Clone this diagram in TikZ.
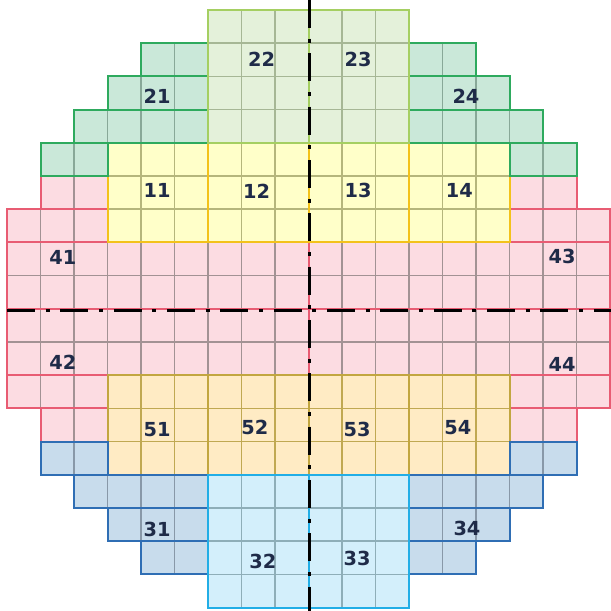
\documentclass[tikz,border=0pt]{standalone}
\usepackage{fontspec}
\newfontfamily\labelfont{DejaVu Sans}

\definecolor{labelnavy}{HTML}{1F2B48}
\definecolor{limefill}{HTML}{E4F1DA}
\definecolor{limeedge}{HTML}{A5CF62}
\definecolor{limegrid}{HTML}{A6B795}
\definecolor{mintfill}{HTML}{CAE8D9}
\definecolor{mintedge}{HTML}{2EAA5E}
\definecolor{mintgrid}{HTML}{88A898}
\definecolor{lemonfill}{HTML}{FFFFC9}
\definecolor{lemonedge}{HTML}{F3C21A}
\definecolor{lemongrid}{HTML}{B5B67C}
\definecolor{rosefill}{HTML}{FCDCE2}
\definecolor{roseedge}{HTML}{E85C73}
\definecolor{rosegrid}{HTML}{A29294}
\definecolor{peachfill}{HTML}{FFEBC4}
\definecolor{peachedge}{HTML}{C2A640}
\definecolor{peachgrid}{HTML}{C0A852}
\definecolor{steelfill}{HTML}{C8DCEC}
\definecolor{steeledge}{HTML}{2F6EB4}
\definecolor{steelgrid}{HTML}{8898A8}
\definecolor{skyfill}{HTML}{D3EFFB}
\definecolor{skyedge}{HTML}{22AEE6}
\definecolor{skygrid}{HTML}{8EAEB8}

\tikzset{every picture/.style={line width=0.75pt}}
\tikzset{
  lime fill/.style={fill=limefill},
  lime grid/.style={draw=limegrid, line width=1.1pt, step=1},
  lime edge/.style={draw=limeedge, line width=1.5pt},
  mint fill/.style={fill=mintfill},
  mint grid/.style={draw=mintgrid, line width=1.1pt, step=1},
  mint edge/.style={draw=mintedge, line width=1.5pt},
  lemon fill/.style={fill=lemonfill},
  lemon grid/.style={draw=lemongrid, line width=1.1pt, step=1},
  lemon edge/.style={draw=lemonedge, line width=1.5pt},
  rose fill/.style={fill=rosefill},
  rose grid/.style={draw=rosegrid, line width=1.1pt, step=1},
  rose edge/.style={draw=roseedge, line width=1.5pt},
  peach fill/.style={fill=peachfill},
  peach grid/.style={draw=peachgrid, line width=1.1pt, step=1},
  peach edge/.style={draw=peachedge, line width=1.5pt},
  steel fill/.style={fill=steelfill},
  steel grid/.style={draw=steelgrid, line width=1.1pt, step=1},
  steel edge/.style={draw=steeledge, line width=1.5pt},
  sky fill/.style={fill=skyfill},
  sky grid/.style={draw=skygrid, line width=1.1pt, step=1},
  sky edge/.style={draw=skyedge, line width=1.5pt},
  axis line/.style={draw=black, line width=1.9pt, dash pattern={on 21pt off 8pt on 3pt off 8pt}},
  zone label/.style={font=\labelfont\bfseries\fontsize{14.5}{16}\selectfont, text=labelnavy, inner sep=0.75pt}
}

% one block of dies: fill, die grid, outline
\newcommand{\cellblock}[3]{%
  \fill[#1 fill] #2 rectangle #3;
  \draw[#1 grid] #2 grid #3;
  \draw[#1 edge] #2 rectangle #3;}

\begin{document}
\begin{tikzpicture}[x=25.125pt,y=24.9pt]
		\useasboundingbox (-0.209,-0.09) rectangle (18.03,18.3);
		
		%Zones 41, 43
		\cellblock{rose}{(1,12)}{(3,13)}
		\cellblock{rose}{(0,11)}{(3,12)}
		\cellblock{rose}{(0,9)}{(9,11)}
		\cellblock{rose}{(15,12)}{(17,13)}
		\cellblock{rose}{(15,11)}{(18,12)}
		\cellblock{rose}{(9,9)}{(18,11)}
		%Zones 42, 44
		\cellblock{rose}{(0,7)}{(9,9)}
		\cellblock{rose}{(0,6)}{(3,7)}
		\cellblock{rose}{(1,5)}{(3,6)}
		\cellblock{rose}{(9,7)}{(18,9)}
		\cellblock{rose}{(15,6)}{(18,7)}
		\cellblock{rose}{(15,5)}{(17,6)}
		
		%Zones 11 - 14
		\cellblock{lemon}{(3,11)}{(6,14)}
		\cellblock{lemon}{(6,11)}{(9,14)}
		\cellblock{lemon}{(9,11)}{(12,14)}
		\cellblock{lemon}{(12,11)}{(15,14)}
		%Zones 51 - 54
		\cellblock{peach}{(3,4)}{(6,7)}
		\cellblock{peach}{(6,4)}{(9,7)}
		\cellblock{peach}{(9,4)}{(12,7)}
		\cellblock{peach}{(12,4)}{(15,7)}
		
		%Zone 21
		\cellblock{mint}{(4,16)}{(6,17)}
		\cellblock{mint}{(3,15)}{(6,16)}
		\cellblock{mint}{(2,14)}{(6,15)}
		\cellblock{mint}{(1,13)}{(3,14)}
		%Zone 24
		\cellblock{mint}{(12,16)}{(14,17)}
		\cellblock{mint}{(12,15)}{(15,16)}
		\cellblock{mint}{(12,14)}{(16,15)}
		\cellblock{mint}{(15,13)}{(17,14)}
		
		%Zone 31
		\cellblock{steel}{(1,4)}{(3,5)}
		\cellblock{steel}{(2,3)}{(6,4)}
		\cellblock{steel}{(3,2)}{(6,3)}
		\cellblock{steel}{(4,1)}{(6,2)}
		%Zone 34
		\cellblock{steel}{(15,4)}{(17,5)}
		\cellblock{steel}{(12,3)}{(16,4)}
		\cellblock{steel}{(12,2)}{(15,3)}
		\cellblock{steel}{(12,1)}{(14,2)}
		
		%Zones 22, 23
		\cellblock{lime}{(6,14)}{(9,18)}
		\cellblock{lime}{(9,14)}{(12,18)}
		%Zones 32, 33
		\cellblock{sky}{(6,0)}{(9,4)}
		\cellblock{sky}{(9,0)}{(12,4)}
		
		%Centre lines
		\coordinate (vtop) at (9.03,18.3);
		\coordinate (vbot) at (9.03,-0.09);
		\coordinate (hleft) at (0,8.95);
		\coordinate (hright) at (18.03,8.95);
		\draw [axis line] (vtop) -- (vbot);
		\draw [axis line] (hleft) -- (hright);
		
		% Text Nodes
		\node (n22) [zone label] at (7.6,16.5) {22};
		\node (n23) [zone label] at (10.48,16.5) {23};
		\node (n21) [zone label] at (4.48,15.4) {21};
		\node (n24) [zone label] at (13.7,15.4) {24};
		\node (n11) [zone label] at (4.48,12.55) {11};
		\node (n12) [zone label] at (7.45,12.55) {12};
		\node (n13) [zone label] at (10.48,12.55) {13};
		\node (n14) [zone label] at (13.5,12.55) {14};
		\node (n41) [zone label] at (1.67,10.55) {41};
		\node (n43) [zone label] at (16.57,10.57) {43};
		\node (n42) [zone label] at (1.67,7.38) {42};
		\node (n44) [zone label] at (16.57,7.32) {44};
		\node (n51) [zone label] at (4.48,5.36) {51};
		\node (n52) [zone label] at (7.4,5.42) {52};
		\node (n53) [zone label] at (10.45,5.36) {53};
		\node (n54) [zone label] at (13.46,5.42) {54};
		\node (n31) [zone label] at (4.48,2.35) {31};
		\node (n34) [zone label] at (13.73,2.38) {34};
		\node (n32) [zone label] at (7.64,1.39) {32};
		\node (n33) [zone label] at (10.45,1.47) {33};
\end{tikzpicture}
\end{document}
